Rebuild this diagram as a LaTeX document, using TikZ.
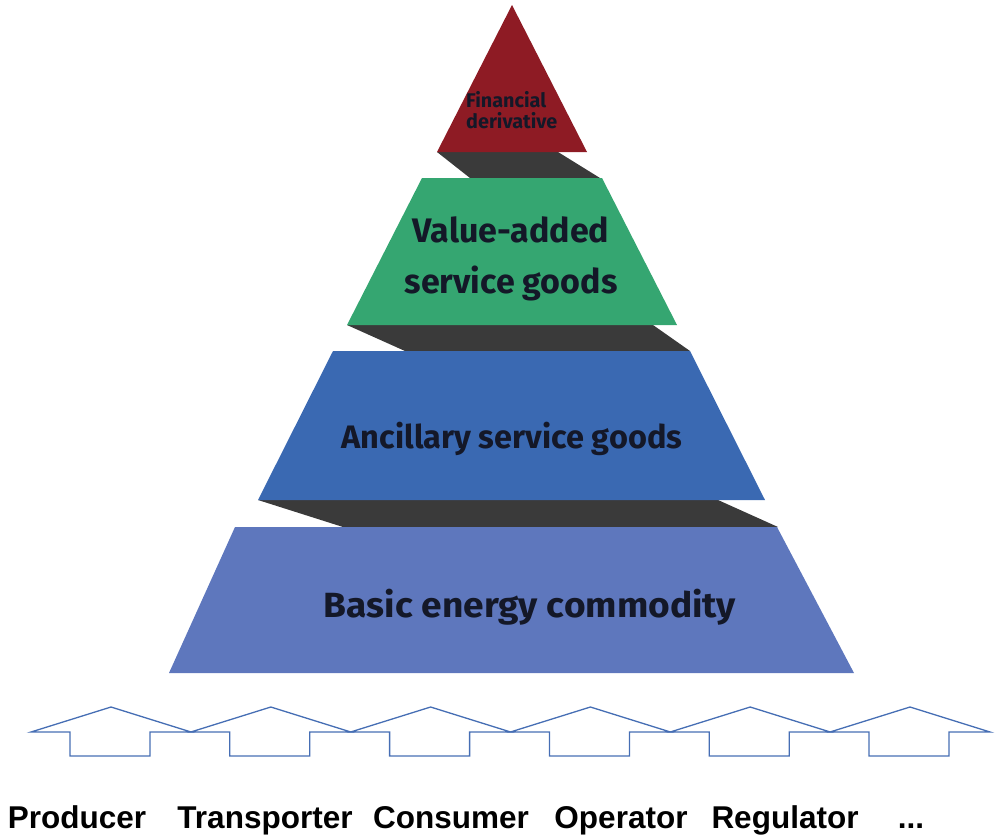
\documentclass[tikz,border=0pt]{standalone}
\usepackage{fontspec}
\setmainfont{Liberation Sans}
\newfontfamily\layerfont{Fira Sans}
\definecolor{finred}{RGB}{142,27,36}
\definecolor{banddark}{RGB}{58,58,58}
\definecolor{vagreen}{RGB}{53,166,113}
\definecolor{ancblue}{RGB}{58,105,178}
\definecolor{basicblue}{RGB}{94,119,189}
\definecolor{houseline}{RGB}{70,110,180}
\definecolor{layertext}{RGB}{20,24,40}
\begin{document}
\begin{tikzpicture}[x=1pt,y=-1pt,
  band/.style={fill=banddark},
  layertxt/.style={text=layertext, inner sep=0pt, anchor=base},
  house/.style={draw=houseline, line width=1.3pt, line join=miter},
  actor/.style={font=\bfseries\fontsize{31.5}{36}\selectfont, anchor=base, inner sep=0pt}]
\useasboundingbox (0,0) rectangle (996,838);
% shadow bands
\fill[band] (437,152) -- (558,152) -- (600,178) -- (470,178) -- cycle;
\fill[band] (347,325) -- (653,325) -- (690,351) -- (405,351) -- cycle;
\fill[band] (258,500) -- (718,500) -- (778,527) -- (343,527) -- cycle;
% layers
\fill[finred] (512,5) -- (587,152) -- (437,152) -- cycle;
\fill[vagreen] (422,178) -- (602,178) -- (677,325) -- (347,325) -- cycle;
\fill[ancblue] (333,351) -- (690,351) -- (765,500) -- (258,500) -- cycle;
\fill[basicblue] (235,527) -- (777,527) -- (854,673) -- (169,673) -- cycle;
% layer texts
\node[layertxt, font=\layerfont\bfseries\fontsize{19.8}{21}\selectfont, align=left, anchor=base west] (fin) at (466,128) {Financial\\derivative};
\node[layertxt, font=\layerfont\bfseries\fontsize{34}{51}\selectfont, align=center] (va) at (511,293) {Value-added\\service goods};
\node[layertxt, font=\layerfont\bfseries\fontsize{32.5}{36}\selectfont] (anc) at (512,448) {Ancillary service goods};
\node[layertxt, font=\layerfont\bfseries\fontsize{35}{40}\selectfont, xscale=1.06] (basic) at (530,617) {Basic energy commodity};
% houses (arrows)
\foreach \i in {0,...,5}{
  \pgfmathsetmacro\ax{111+159.8*\i}
  \draw[house] ({\ax-80},732) -- ({\ax-41},732) -- ({\ax-41},756) -- ({\ax+39},756)
     -- ({\ax+39},732) -- ({\ax+80},732) -- (\ax,707) -- cycle;
}
% actor labels
\node[actor] (producer) at (77,828) {Producer};
\node[actor] (transporter) at (265,828) {Transporter};
\node[actor] (consumer) at (451,828) {Consumer};
\node[actor] (operator) at (621,828) {Operator};
\node[actor] (regulator) at (785,828) {Regulator};
\node[actor] (more) at (911,828) {...};
\end{tikzpicture}
\end{document}
